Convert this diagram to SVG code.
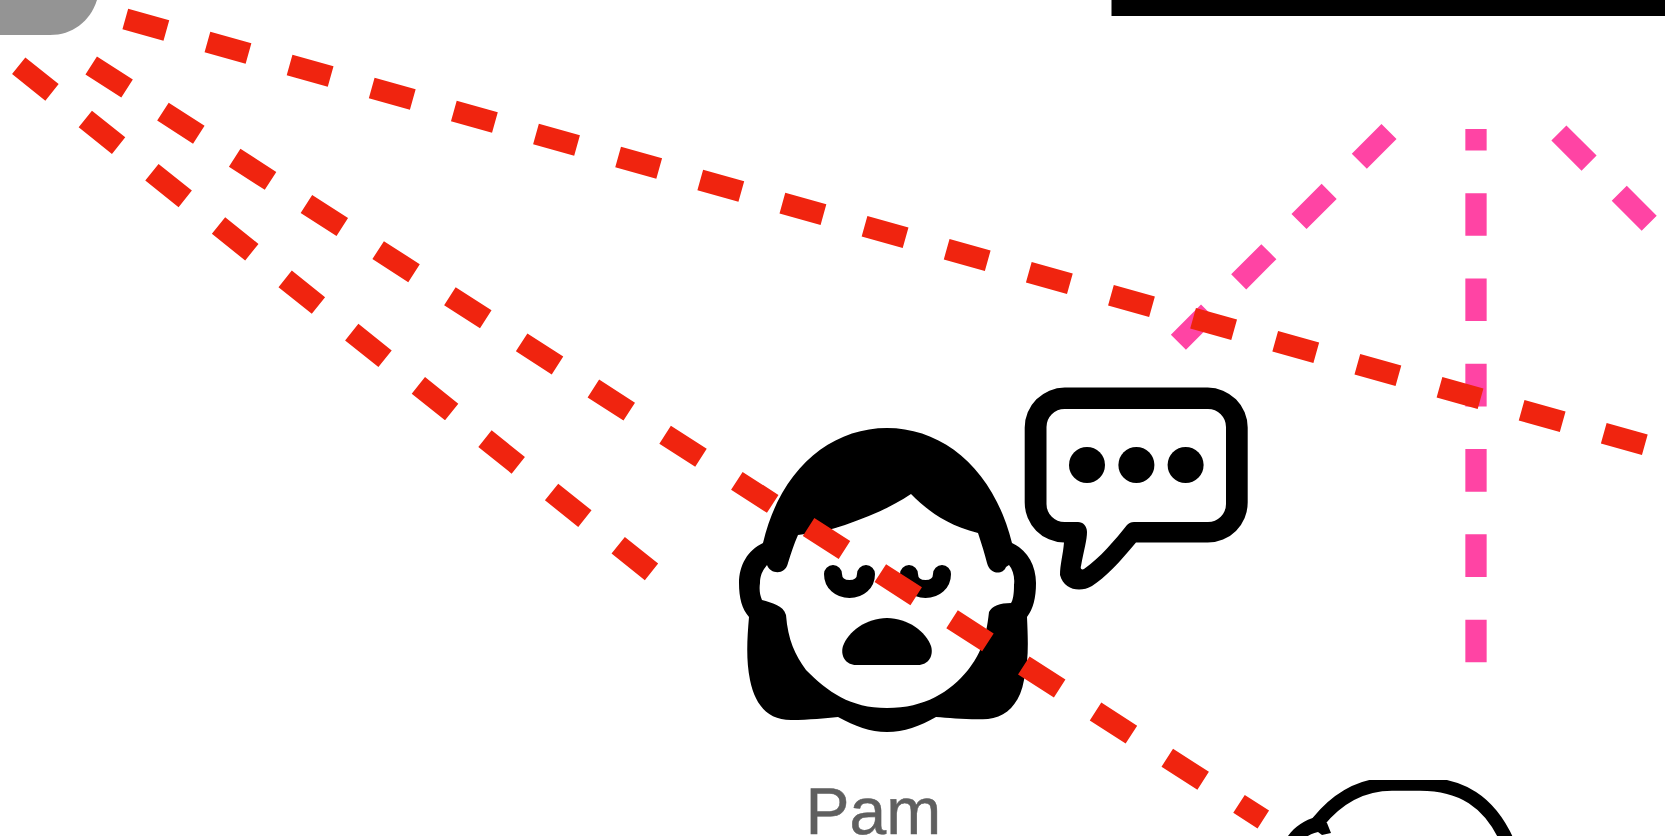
<svg xmlns="http://www.w3.org/2000/svg" width="1665" height="836" viewBox="0 0 1665 836">
<style>
.red{stroke:#f0240f}
.pink{stroke:#ff44a4}
.c{fill:none;stroke-width:21.3;stroke-dasharray:42.65 42.65}
.ink{fill:#000}
.line{fill:none;stroke:#000;stroke-linejoin:round;stroke-linecap:round}
.lbl{font-family:"Liberation Sans",Arial,sans-serif;font-size:66px;fill:#5f5f5f;stroke:#5f5f5f;stroke-width:.5;text-rendering:geometricPrecision}
</style>
<defs><filter id="soft" x="-5%" y="-5%" width="110%" height="110%"><feGaussianBlur stdDeviation="0.6"/></filter></defs>
<rect width="1665" height="836" fill="#fff"/>
<g id="node-grey"><path d="M0 0H97C90 22 72 35 50 35H0Z" fill="#949494"/></g>
<g id="node-bar"><rect x="1111.5" y="0" width="553.5" height="16" class="ink"/></g>
<g id="node-pam">
<g filter="url(#soft)">
<path class="ink" d="M887 428C830 428 780 470 763 543C748 550 739 565 739 583C739 598 742 609 749 617C747 640 746 660 750 680C755 705 768 720 791 720C810 720 825 718 838 717C855 726 870 732 887 732C904 732 920 726 936 717C950 718 970 720 988 719C1007 717 1020 703 1024 680C1029 660 1028 640 1027 617C1033 609 1036 598 1036 583C1036 565 1027 550 1012 543C994 470 944 428 887 428Z"/>
<path fill="#fff" d="M798 535C815 533 830 530 845 525C870 516 892 507 911 494C925 508 945 525 978 533C982 545 985 555 987 563C990 575 1003 575 1006 567L1009 565C1013 570 1015 577 1014 585C1014 594 1013 600 1011 603C1000 603 992 606 989 612C986 640 980 655 968 670C950 692 925 708 887 708C850 708 828 692 806 670C795 655 788 640 786 615C783 605 772 603 762 600C760 595 759 590 760 583C760 575 763 570 767 565C770 574 785 576 788 563C791 553 794 544 798 535Z"/>
<path class="line" stroke-width="18" d="M833 574C833 583 840 589 849.5 589C859 589 866 583 866 574"/>
<path class="line" stroke-width="18" d="M909 574C909 583 916 589 925.500 589C935 589 942 583 942 574"/>
<path class="ink" d="M887 618C866 618 848 632 843 646C840 656 846 665 856 665H918C928 665 934 656 931 646C926 632 908 618 887 618Z"/>
</g>
<text class="lbl" x="805.500" y="834">Pam</text>
</g>
<g id="node-bubble" filter="url(#soft)">
<path class="ink" fill-rule="evenodd" d="M1064.700 387.600H1207.700a40 40 0 0 1 40 40V502.600a40 40 0 0 1 -40 40H1136C1120 562 1105 578 1092 586C1080 593 1064 590 1060 575C1060 565 1063 555 1064 542.600A40 40 0 0 1 1024.700 502.600V427.600A40 40 0 0 1 1064.700 387.600ZM1064.500 409A18 18 0 0 0 1046.500 427V504A18 18 0 0 0 1064.500 522H1078C1083 522 1087 526 1087 532C1087 540 1084 550 1081 566C1080 569 1082 570 1084 569C1100 558 1115 540 1127 525C1129 523 1131 522 1134 522H1208A18 18 0 0 0 1226 504V427A18 18 0 0 0 1208 409Z"/>
<circle class="ink" cx="1087" cy="465" r="18"/>
<circle class="ink" cx="1136.400" cy="465" r="18"/>
<circle class="ink" cx="1185.600" cy="465" r="18"/>
</g>
<g id="node-robot" filter="url(#soft)">
<path class="line" stroke-width="13.500" stroke-linecap="butt" d="M1318 822C1340 795 1365 784 1392 784H1420C1460 784 1490 800 1509 845"/>
<path class="ink" d="M1288 836C1295 826 1305 820 1316 817L1327 823L1331 833L1322 835L1318 832C1310 834 1303 838 1298 845H1284Z"/>
</g>
<g id="connectors">
<path class="c pink" d="M1476 662.300V129"/>
<path class="c pink" d="M1178.400 342.200L1389 131.500"/>
<path class="c pink" d="M1558.900 133L1649.200 223.200"/>
<path class="c red" d="M125.300 19L1644.900 444.800"/>
<path class="c red" d="M91.200 65.500L1263.300 819.500"/>
<path class="c red" d="M18.700 65.700L651.500 571.900"/>
</g>
</svg>
